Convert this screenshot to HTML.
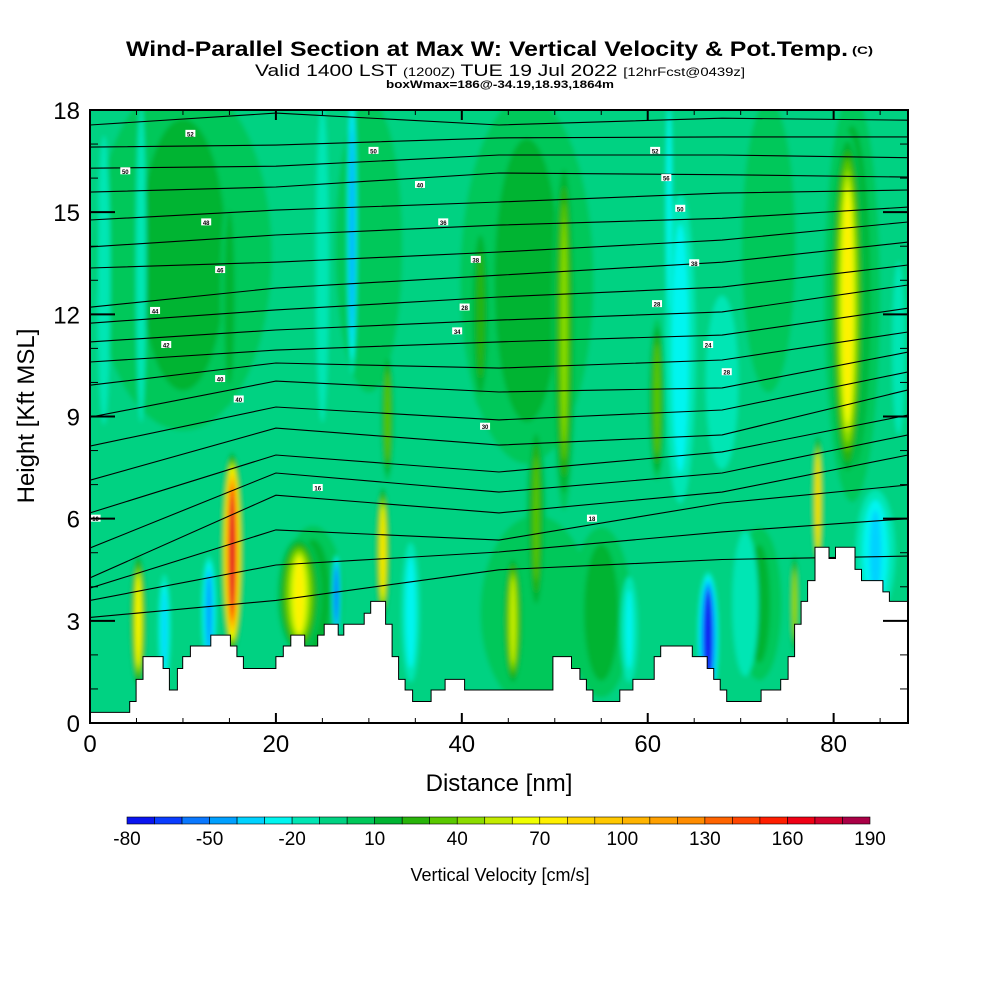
<!DOCTYPE html>
<html><head><meta charset="utf-8"><style>
html,body{margin:0;padding:0;background:#fff;}
svg{display:block;font-family:"Liberation Sans",sans-serif;}
</style></head><body>
<svg id="chart" width="1000" height="1000" viewBox="0 0 1000 1000">
<text x="126" y="56" font-size="21" font-weight="bold" textLength="722" lengthAdjust="spacingAndGlyphs">Wind-Parallel Section at Max W: Vertical Velocity &amp; Pot.Temp.</text>
<text x="852" y="54" font-size="11" font-weight="bold" textLength="21" lengthAdjust="spacingAndGlyphs">(C)</text>
<text x="255" y="76" font-size="17" textLength="490" lengthAdjust="spacingAndGlyphs">Valid 1400 LST <tspan font-size="12">(1200Z)</tspan> TUE 19 Jul 2022 <tspan font-size="12">[12hrFcst@0439z]</tspan></text>
<text x="386" y="88" font-size="11" font-weight="bold" textLength="228" lengthAdjust="spacingAndGlyphs">boxWmax=186@-34.19,18.93,1864m</text>
<defs>
<clipPath id="plotclip"><rect x="90" y="110" width="818" height="613"/></clipPath>
<filter id="soft" x="0" y="0" width="1" height="1"><feGaussianBlur stdDeviation="2.5"/></filter>
</defs>
<g clip-path="url(#plotclip)"><g id="field" filter="url(#soft)"></g></g>
<g id="contours" clip-path="url(#plotclip)"></g>
<g id="terrain" clip-path="url(#plotclip)"></g>
<g id="labels"></g>
<rect x="90" y="110" width="818" height="613" fill="none" stroke="#000" stroke-width="2"/>
<g id="axes"></g>
<text x="499" y="791" font-size="24" text-anchor="middle">Distance [nm]</text>
<text transform="translate(34,416) rotate(-90)" font-size="24" text-anchor="middle">Height [Kft MSL]</text>
<g id="cbar"></g>
<text x="500" y="881" font-size="18" text-anchor="middle">Vertical Velocity [cm/s]</text>
</svg>
<script>
const NS="http://www.w3.org/2000/svg";
const palette=["#0a14f0","#0a3cff","#0a78ff","#00a0ff","#00d2ff","#00f5f0","#00e6b4","#00d282","#00c85a","#00b432","#28b40a","#5ac800","#8cdc00","#c3eb00","#f0ff00","#fff000","#ffd700","#ffc800","#ffb400","#ffa000","#ff8c00","#ff6400","#ff4600","#ff1e00","#f00014","#d2002d","#aa0046"];
const cbarTicks=[-80,-50,-20,10,40,70,100,130,160,190];
const xTicks=[0,20,40,60,80];
const yTicks=[0,3,6,9,12,15,18];
// plumes: center nm, half width nm, bottom kft, top kft, peak w (cm/s)
const plumeX=[10,47,30,73,48,55,24,72,82,1.5,5.5,15,25,28.2,32,42,51,48,63.5,62.3,61,68,81.5,78.3,84.5,87,70.5,75.8,58,45.5,34.5,31.5,26.5,22.5,12.8,8,5.2,15.3,66.5];
const plumeHW=[12,9,5,4,8,4,4,3,3.5,1,0.8,1.2,1,0.6,0.8,1.5,1.4,1.2,2,0.5,1,2.5,2,0.6,2.5,1,2,0.5,1.2,1.2,1.2,0.8,0.5,2.5,0.9,0.8,0.9,1.2,1.2];
const plumeBot=[8,7,9,9,0,0.5,1.5,1,6,8,8,9,8,10,7,9,6,3,6,11,7,7,7,4.5,3,8,1,2,1,1,1,3,2.5,2,1.5,1,1,2,0.5];
const plumeTop=[19.5,19,19,19,6.5,6,6,6,19,18,19,16,19,19,11,15,17,9,16,19,12,13,17.5,8.5,7,14,6,5,4.5,5,5.5,7,5,5.5,5,4.5,5,8,4.5];
const plumeW=[12,12,6,6,8,15,15,12,20,-15,-15,15,-15,-45,35,20,40,30,-25,-25,35,-15,75,90,-30,-15,-15,50,-20,55,-25,80,-60,70,-45,-30,75,170,-80];
// terrain steps: start nm, height kft
const terrX=[0,4.27,4.96,5.7,7.86,8.54,9.4,9.97,10.8,13.0,15.1,15.8,16.5,20.0,20.8,21.6,23.1,24.5,25.2,26.7,27.3,29.5,30.2,31.8,32.5,33.2,33.9,34.7,36.7,38.2,40.3,49.8,51.8,52.7,53.4,54.1,57.0,58.4,60.7,61.4,64.8,66.4,67.1,67.8,68.5,72.2,74.3,75.1,75.8,76.5,77.2,78.0,79.5,80.2,82.3,83.0,85.3,86.0,88];
const terrH=[0.31,0.63,1.28,1.95,1.6,0.97,1.6,1.95,2.26,2.58,2.26,1.95,1.6,1.95,2.26,2.58,2.26,2.58,2.9,2.58,2.9,3.22,3.57,2.9,1.95,1.28,0.97,0.63,0.97,1.28,0.97,1.95,1.6,1.28,0.97,0.63,0.97,1.28,1.95,2.26,1.95,1.6,1.28,0.97,0.63,0.97,1.28,1.95,2.9,3.57,4.18,5.16,4.83,5.16,4.51,4.18,3.85,3.57,3.57];
// theta contours: heights (kft) at nodes
const contNodes=[0,20,44,68,88];
const contLines=[
[17.56,17.91,17.56,17.76,17.70],[16.91,16.97,17.18,17.21,17.21],[16.29,16.35,16.68,16.68,16.6],
[15.59,15.74,16.15,16.1,16.03],[14.77,15.06,15.3,15.56,15.65],[13.98,14.33,14.62,14.82,15.15],
[13.36,13.53,13.83,14.18,14.71],[12.21,12.77,13.15,13.53,14.12],[11.74,12.13,12.51,12.8,13.45],
[11.19,11.54,11.83,12.07,12.86],[10.6,10.95,11.19,11.39,12.18],[9.92,10.57,10.42,10.66,11.48],
[8.98,10.04,9.72,9.84,10.89],[8.13,9.28,8.9,9.19,10.31],[7.13,8.66,8.16,8.46,9.78],
[6.17,7.87,7.37,7.96,9.04],[5.14,7.34,6.78,7.34,8.46],[4.26,6.69,6.17,6.78,7.87],
[3.96,5.67,5.37,6.46,6.99],[3.6,4.64,5.02,5.61,6.0],[3.1,3.6,4.5,4.8,4.9]];
const labelNm=[10.8,3.8,12.5,14,7,8.2,14,16,0.6,24.5,30.5,35.5,38,41.5,40.3,39.5,42.5,54,60.8,62,63.5,65,61,66.5,68.5];
const labelK=[17.3,16.2,14.7,13.3,12.1,11.1,10.1,9.5,6.0,6.9,16.8,15.8,14.7,13.6,12.2,11.5,8.7,6.0,16.8,16,15.1,13.5,12.3,11.1,10.3];
const labelTxt=["52","50","48","46","44","42","40","40","10","16","50","40","36","38","28","34","30","18","52","56","50","38","28","24","28"];

const X=nm=>90+nm*818/88;
const Y=k=>723-k*613/18;
const colorOf=w=>palette[Math.max(0,Math.min(26,Math.floor((w+80)/10)))];
const mk=(tag,attrs,parent)=>{const e=document.createElementNS(NS,tag);for(const a in attrs)e.setAttribute(a,attrs[a]);parent.appendChild(e);return e;};

const field=document.getElementById('field');
const bg=mk('rect',{x:80,y:100,width:840,height:640,fill:colorOf(-5)},field);


const base=-5;
for(let i=0;i<plumeX.length;i++){
  const g=mk('g',{},field);
  
  
  const peak=plumeW[i];
  const levels=[];
  if(peak>base){for(let L=0;L<=peak;L+=10)levels.push(L);}
  else{for(let L=-10;L>=peak;L-=10)levels.push(L);}
  const cx=X(plumeX[i]),cy=Y((plumeBot[i]+plumeTop[i])/2);
  const rx=plumeHW[i]*818/88,ry=(plumeTop[i]-plumeBot[i])/2*613/18;
  levels.forEach(L=>{
    const f=(L-base)/(peak-base+(peak>base?5:-5));
    mk('ellipse',{cx:cx,cy:cy,rx:rx*(1-f*0.9),ry:ry*(1-f*0.45),fill:colorOf(L+(peak>base?1:-1))},g);
  });
}

const cont=document.getElementById('contours');
contLines.forEach(line=>{
  const pts=line.map((k,j)=>X(contNodes[j]).toFixed(1)+','+Y(k).toFixed(1)).join(' ');
  const p=mk('polyline',{points:pts,fill:'none',stroke:'#000','stroke-width':1.1},cont);
  
  
});

const terr=document.getElementById('terrain');
let d='M'+X(0)+','+Y(0);
for(let i=0;i<terrX.length-1;i++){
  d+=' L'+X(terrX[i]).toFixed(1)+','+Y(terrH[i]).toFixed(1)+' L'+X(terrX[i+1]).toFixed(1)+','+Y(terrH[i]).toFixed(1);
}
d+=' L'+X(88)+','+Y(0)+' Z';
const tp=mk('path',{d:d,fill:'#fff',stroke:'#000','stroke-width':1},terr);



const labs=document.getElementById('labels');
labelNm.forEach((nm,i)=>{
  const g=mk('g',{},labs);
  
  
  mk('rect',{x:X(nm)-5,y:Y(labelK[i])-4,width:10,height:7,fill:'#fff'},g);
  const t=mk('text',{x:X(nm),y:Y(labelK[i])+2.5,'font-size':6,'text-anchor':'middle','font-weight':'bold'},g);
  t.textContent=labelTxt[i];
});

const axes=document.getElementById('axes');
for(let nm=0;nm<=88;nm+=5){
  const major=nm%20===0;const len=major?10:5;
  mk('line',{x1:X(nm),x2:X(nm),y1:723,y2:723-len,stroke:'#000','stroke-width':major?2:1},axes);
  mk('line',{x1:X(nm),x2:X(nm),y1:110,y2:110+len,stroke:'#000','stroke-width':major?2:1},axes);
}
for(let k=0;k<=18;k++){
  const major=k%3===0;const len=major?25:8;
  mk('line',{x1:90,x2:90+len,y1:Y(k),y2:Y(k),stroke:'#000','stroke-width':major?2:1},axes);
  mk('line',{x1:908,x2:908-len,y1:Y(k),y2:Y(k),stroke:'#000','stroke-width':major?2:1},axes);
}
xTicks.forEach(v=>{
  const t=mk('text',{x:X(v),y:752,'font-size':24,'text-anchor':'middle'},axes);
  
  
  t.textContent=v;
});
yTicks.forEach(v=>{
  const t=mk('text',{x:80,y:Y(v)+9,'font-size':24,'text-anchor':'end'},axes);
  
  
  t.textContent=v;
});

const cb=document.getElementById('cbar');
const cbx0=127,cbx1=870,cbw=(cbx1-cbx0)/27;
palette.forEach((c,i)=>{
  const r=mk('rect',{x:cbx0+i*cbw,y:817,width:cbw,height:7,fill:c,stroke:'#000','stroke-width':0.6},cb);
  
  
});
cbarTicks.forEach(v=>{
  const t=mk('text',{x:cbx0+(v+80)/10*cbw,y:845,'font-size':19,'text-anchor':'middle'},cb);
  
  
  t.textContent=v;
});
</script>
</body></html>
